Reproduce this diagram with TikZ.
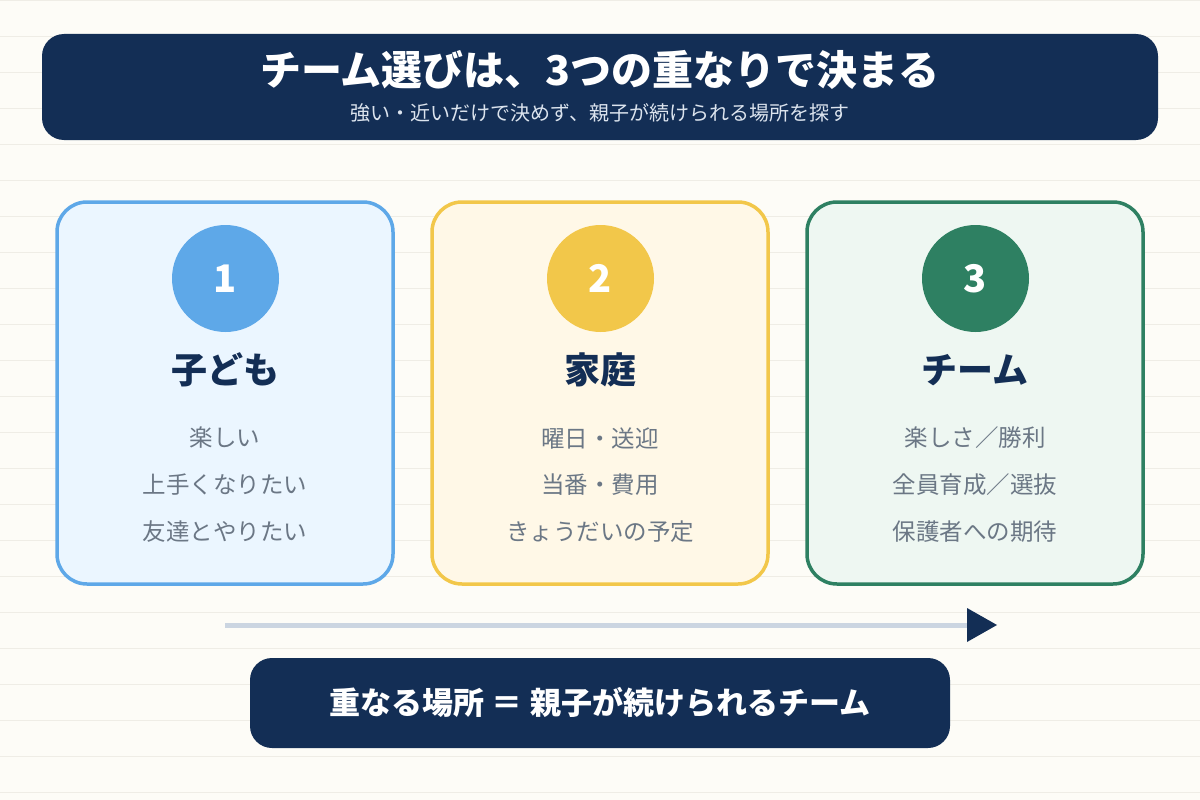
\documentclass[tikz,border=0pt]{standalone}
\usepackage{fontspec}
\setmainfont{Noto Sans CJK JP}
\usetikzlibrary{arrows.meta}
\definecolor{bgc}{HTML}{FDFCF7}
\definecolor{rule}{HTML}{EFEDE6}
\definecolor{navy}{HTML}{132E55}
\definecolor{subc}{HTML}{DCE4EE}
\definecolor{itemc}{HTML}{6B7785}
\definecolor{blueB}{HTML}{5EA8E8}
\definecolor{blueF}{HTML}{EBF6FF}
\definecolor{yelB}{HTML}{F2C74A}
\definecolor{yelF}{HTML}{FFF8E7}
\definecolor{grnB}{HTML}{2E8062}
\definecolor{grnF}{HTML}{EEF7F2}
\definecolor{shaft}{HTML}{CBD5E1}
\tikzset{
  banner/.style={fill=navy, rounded corners=22pt, draw=none},
  card/.style={line width=3.5pt, rounded corners=30pt},
  numc/.style={circle, minimum size=107pt, inner sep=0pt, text=white, font=\fontsize{38}{40}\selectfont\bfseries},
  head/.style={text=navy, font=\fontsize{36}{40}\selectfont\bfseries, inner sep=0pt},
  item/.style={text=itemc, font=\fontsize{23.5}{26}\selectfont, inner sep=0pt},
}
\begin{document}
\begin{tikzpicture}[x=1pt,y=-1pt]
\fill[bgc] (0,0) rectangle (1200,800);
\useasboundingbox (0,0) rectangle (1200,800);
\foreach \k in {0,...,22} {\draw[rule, line width=1pt] (0,{\k*36+0.5}) -- (1200,{\k*36+0.5});}
% title banner
\path[banner] (42,34) rectangle (1158,140);
\node[text=white, font=\fontsize{41}{44}\selectfont\bfseries, inner sep=0pt] (title) at (600,70) {チーム選びは、3つの重なりで決まる};
\node[text=subc, font=\fontsize{20}{22}\selectfont, inner sep=0pt] (sub) at (600,113) {強い・近いだけで決めず、親子が続けられる場所を探す};
% cards
\draw[card, draw=blueB, fill=blueF] (57,202) rectangle (393,584);
\draw[card, draw=yelB, fill=yelF] (432,202) rectangle (768,584);
\draw[card, draw=grnB, fill=grnF] (807,202) rectangle (1143,584);
\node[numc, fill=blueB] (n1) at (225.5,278.5) {1};
\node[numc, fill=yelB] (n2) at (600.5,278.5) {2};
\node[numc, fill=grnB] (n3) at (975.5,278.5) {3};
\node[head] (h1) at (225,370) {子ども};
\node[head] (h2) at (600,370) {家庭};
\node[head] (h3) at (975,370) {チーム};
\node[item] (a1) at (225,438) {楽しい};
\node[item] (a2) at (225,485) {上手くなりたい};
\node[item] (a3) at (225,532) {友達とやりたい};
\node[item] (b1) at (600,438) {曜日・送迎};
\node[item] (b2) at (600,485) {当番・費用};
\node[item] (b3) at (600,532) {きょうだいの予定};
\node[item] (c1) at (975,438) {楽しさ／勝利};
\node[item] (c2) at (975,485) {全員育成／選抜};
\node[item] (c3) at (975,532) {保護者への期待};
% arrow
\coordinate (as) at (225,625);
\coordinate (ae) at (997,625);
\draw[shaft, line width=5pt, -{Triangle[length=30pt, width=34pt, color=navy, fill=navy, line width=0pt]}] (as) -- (ae);
% bottom banner
\path[banner] (250,658) rectangle (950,748);
\node[text=white, font=\fontsize{31}{34}\selectfont\bfseries, inner sep=0pt] (concl) at (600,702) {重なる場所 ＝ 親子が続けられるチーム};
\end{tikzpicture}
\end{document}
